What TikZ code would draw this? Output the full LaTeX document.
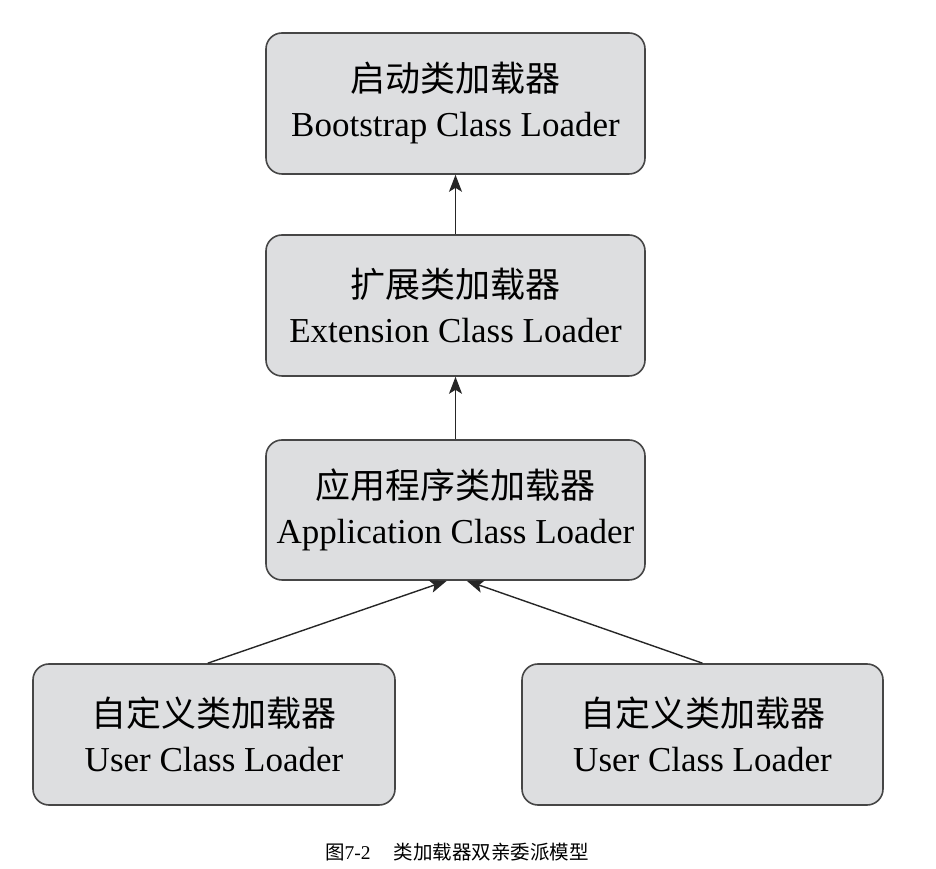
\documentclass[tikz,border=0pt]{standalone}
\usepackage{fontspec}
\setmainfont{Liberation Serif}
\newfontfamily\cjk{Noto Sans CJK SC}
\usetikzlibrary{arrows.meta}
\definecolor{boxfill}{RGB}{221,222,224}
\definecolor{boxline}{RGB}{70,70,70}
\begin{document}
\begin{tikzpicture}[
loaderbox/.style={
    draw=boxline,
    fill=boxfill,
    line width=1.6pt,
    rectangle,
    rounded corners=16pt,
    minimum height=141pt,
    align=center,
    font=\fontsize{35}{45}\selectfont},
uparrow/.style={
    draw=black!85,
    line width=1.4pt,
    -{Stealth[length=17pt,width=13pt,inset=4pt]}}
]

\useasboundingbox (0 pt, 0 pt) rectangle (936 pt, 869 pt);

\node (boot) at (455.5 pt, 765.5 pt) [loaderbox, minimum width=379pt] {{\cjk 启动类加载器}\\Bootstrap Class Loader};
\node (ext) at (455.5 pt, 563.5 pt) [loaderbox, minimum width=379pt] {{\cjk 扩展类加载器}\\Extension Class Loader};
\node (app) at (455.5 pt, 359 pt) [loaderbox, minimum width=379pt, minimum height=140pt] {{\cjk 应用程序类加载器}\\Application Class Loader};

\node (userA) at (214 pt, 134.5 pt) [loaderbox, minimum width=362pt] {{\cjk 自定义类加载器}\\User Class Loader};
\node (userB) at (702.5 pt, 134.5 pt) [loaderbox, minimum width=361pt] {{\cjk 自定义类加载器}\\User Class Loader};

\draw [uparrow] (ext.north) -- (boot.south);
\draw [uparrow] (app.north) -- (ext.south);
\draw [uparrow] (userA.95) -- (app.263);
\draw [uparrow] (userB.north) -- (app.279);

\node (caption) at (457 pt, 17 pt) [font=\fontsize{19.5}{22}\selectfont] {{\cjk 图}7-2\hspace{1.2em}{\cjk 类加载器双亲委派模型}};

\end{tikzpicture}
\end{document}
